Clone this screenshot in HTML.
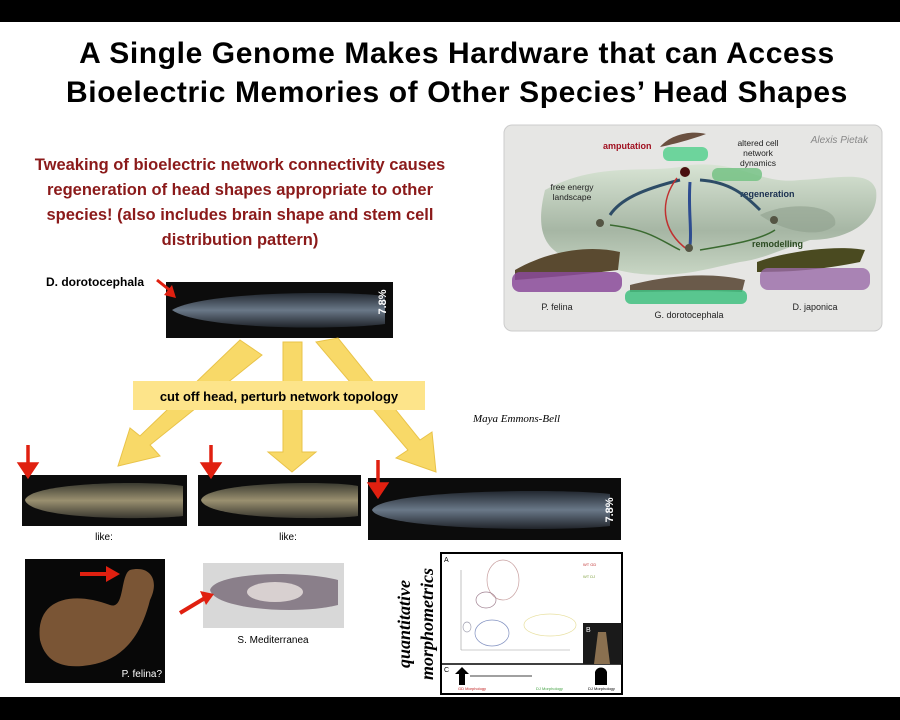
<!DOCTYPE html>
<html><head><meta charset="utf-8"><style>
body{margin:0;background:#000;}
svg{display:block}
</style></head><body>
<svg width="900" height="720" viewBox="0 0 900 720" xmlns="http://www.w3.org/2000/svg" font-family="Liberation Sans, sans-serif">
<defs>
<linearGradient id="worm" x1="0" y1="0" x2="0" y2="1"><stop offset="0" stop-color="#3a3a30"/><stop offset="0.5" stop-color="#9a9070"/><stop offset="1" stop-color="#3a3830"/></linearGradient>
<linearGradient id="wormb" x1="0" y1="0" x2="0" y2="1"><stop offset="0" stop-color="#222830"/><stop offset="0.5" stop-color="#6a7888"/><stop offset="1" stop-color="#20242a"/></linearGradient>
<linearGradient id="land" x1="0" y1="0" x2="0" y2="1"><stop offset="0" stop-color="#d8e4d4"/><stop offset="0.6" stop-color="#a6b6a4"/><stop offset="1" stop-color="#c8d6c4"/></linearGradient>
</defs>
<rect x="0" y="0" width="900" height="720" fill="#000"/>
<rect x="0" y="22" width="900" height="675" fill="#fff"/>
<text x="457" y="63" text-anchor="middle" font-size="30" font-weight="bold" fill="#000" letter-spacing="0.6">A Single Genome Makes Hardware that can Access</text>
<text x="457" y="102" text-anchor="middle" font-size="30" font-weight="bold" fill="#000" letter-spacing="0.6">Bioelectric Memories of Other Species’ Head Shapes</text>
<g font-size="16.5" font-weight="bold" fill="#8b1a1a" text-anchor="middle">
<text x="240" y="170">Tweaking of bioelectric network connectivity causes</text>
<text x="240" y="195">regeneration of head shapes appropriate to other</text>
<text x="240" y="220">species! (also includes brain shape and stem cell</text>
<text x="240" y="245">distribution pattern)</text>
</g>
<rect x="504" y="125" width="378" height="206" rx="8" fill="#e6e6e4" stroke="#ccc"/>
<path d="M545 190 C600 160 650 175 690 165 C740 160 760 185 800 180 C840 178 870 170 876 190 C880 220 850 240 810 240 C780 250 760 260 740 262 C700 270 660 285 600 265 C560 260 530 250 545 190Z" fill="url(#land)"/>
<path d="M760 215 C790 200 840 205 835 225 C820 240 780 230 760 215Z" fill="#8fa08e" opacity="0.6"/>
<text x="868" y="143" text-anchor="end" font-size="10" font-style="italic" fill="#888">Alexis Pietak</text>
<text x="603" y="149" font-size="9" font-weight="bold" fill="#a01020">amputation</text>
<text x="758" y="146" text-anchor="middle" font-size="8.5" fill="#222">altered cell</text>
<text x="758" y="156" text-anchor="middle" font-size="8.5" fill="#222">network</text>
<text x="758" y="166" text-anchor="middle" font-size="8.5" fill="#222">dynamics</text>
<text x="572" y="190" text-anchor="middle" font-size="8.5" fill="#222">free energy</text>
<text x="572" y="200" text-anchor="middle" font-size="8.5" fill="#222">landscape</text>
<text x="740" y="197" font-size="9" font-weight="bold" fill="#1a3050">regeneration</text>
<text x="752" y="247" font-size="9" font-weight="bold" fill="#2a4a20">remodelling</text>
<path d="M660 147 C670 135 690 130 706 134 C690 140 670 145 660 147Z" fill="#6a5040"/>
<rect x="663" y="147" width="45" height="14" rx="6" fill="#4fd08a" opacity="0.8"/>
<rect x="712" y="168" width="50" height="13" rx="6" fill="#6fc080" opacity="0.8"/>
<circle cx="685" cy="172" r="5" fill="#4a1010"/>
<path d="M700 180 C730 182 745 195 760 210" stroke="#2d4c66" stroke-width="3" fill="none"/>
<path d="M680 180 C640 190 620 200 610 215" stroke="#2d4c66" stroke-width="3" fill="none"/>
<path d="M690 182 C688 210 692 230 690 245" stroke="#2d4c90" stroke-width="3" fill="none"/>
<path d="M688 250 C660 230 660 200 677 178" stroke="#c03030" stroke-width="1.5" fill="none"/>
<path d="M610 225 C650 230 660 240 680 250 M775 230 C760 240 730 245 700 250" stroke="#3a6a30" stroke-width="1.5" fill="none"/>
<circle cx="600" cy="223" r="4" fill="#554"/><circle cx="774" cy="220" r="4" fill="#554"/><circle cx="689" cy="248" r="4" fill="#554"/>
<path d="M515 270 C550 250 590 245 620 252 L618 270 C580 275 540 278 515 280Z" fill="#5a4a30"/>
<rect x="512" y="272" width="110" height="20" rx="8" fill="#8a4a9a" opacity="0.85"/>
<path d="M630 285 C670 275 710 272 745 280 L742 292 C700 290 660 292 630 292Z" fill="#6a5a4a"/>
<rect x="625" y="290" width="122" height="14" rx="6" fill="#3fbf80" opacity="0.85"/>
<path d="M757 262 C790 250 840 245 865 250 L860 262 C820 270 790 272 757 272Z" fill="#4a4a20"/>
<rect x="760" y="268" width="110" height="22" rx="8" fill="#9a6aa8" opacity="0.8"/>
<text x="557" y="310" text-anchor="middle" font-size="9" fill="#222">P. felina</text>
<text x="689" y="318" text-anchor="middle" font-size="9" fill="#222">G. dorotocephala</text>
<text x="815" y="310" text-anchor="middle" font-size="9" fill="#222">D. japonica</text>
<text x="46" y="286" font-size="12" font-weight="bold" fill="#000">D. dorotocephala</text>
<rect x="166" y="282" width="227" height="56" fill="#0c0c0c"/>
<path d="M172 310 C200 292 340 290 385 296 L385 324 C340 330 200 330 172 310Z" fill="url(#wormb)"/>
<text x="386" y="302" font-size="11" font-weight="bold" fill="#fff" transform="rotate(-90 386 302)" text-anchor="middle">7.8%</text>
<path d="M157 280 L172 292" stroke="#e02010" stroke-width="3"/><path d="M176 298 L164 295 L172 285Z" fill="#e02010"/>
<g fill="#f8d860" stroke="#e8c040" stroke-width="1" opacity="0.95">
<path d="M240 340 L262 355 L150 445 L160 456 L118 466 L130 428 L140 436Z"/>
<path d="M283 342 L302 342 L302 452 L316 452 L292 472 L268 452 L283 452Z"/>
<path d="M316 342 L338 338 L420 440 L432 432 L436 472 L396 458 L408 450Z"/>
</g>
<rect x="133" y="381" width="292" height="29" fill="#fde48a"/>
<text x="279" y="401" text-anchor="middle" font-size="13" font-weight="bold" fill="#000">cut off head, perturb network topology</text>
<text x="473" y="422" font-size="11" font-style="italic" font-family="Liberation Serif, serif" fill="#000">Maya Emmons-Bell</text>
<rect x="22" y="475" width="165" height="51" fill="#0c0c0c"/>
<path d="M25 500 C30 482 150 480 183 486 L183 516 C150 520 30 520 25 500Z" fill="url(#worm)"/>
<rect x="198" y="475" width="163" height="51" fill="#0c0c0c"/>
<path d="M201 500 C206 482 330 480 358 486 L358 516 C330 520 206 520 201 500Z" fill="url(#worm)"/>
<rect x="368" y="478" width="253" height="62" fill="#0c0c0c"/>
<path d="M372 510 C380 490 560 488 610 494 L610 526 C560 532 380 530 372 510Z" fill="url(#wormb)"/>
<text x="613" y="510" font-size="11" font-weight="bold" fill="#fff" transform="rotate(-90 613 510)" text-anchor="middle">7.8%</text>
<g stroke="#e02010" stroke-width="3.5" fill="#e02010">
<line x1="28" y1="445" x2="28" y2="466"/><path d="M20 464 L36 464 L28 476Z"/>
<line x1="211" y1="445" x2="211" y2="466"/><path d="M203 464 L219 464 L211 476Z"/>
<line x1="378" y1="460" x2="378" y2="486"/><path d="M370 484 L386 484 L378 496Z"/>
</g>
<text x="104" y="540" text-anchor="middle" font-size="10" fill="#000">like:</text>
<text x="288" y="540" text-anchor="middle" font-size="10" fill="#000">like:</text>
<rect x="25" y="559" width="140" height="124" fill="#080808"/>
<path d="M40 640 C35 600 70 590 110 605 C125 610 120 575 130 570 C150 565 160 580 150 600 C140 640 120 660 90 665 C60 670 45 660 40 640Z" fill="#7a5535"/>
<text x="162" y="677" text-anchor="end" font-size="10" fill="#fff">P. felina?</text>
<path d="M80 574 L108 574" stroke="#e02010" stroke-width="4"/><path d="M106 566 L120 574 L106 582Z" fill="#e02010"/>
<rect x="203" y="563" width="141" height="65" fill="#d8d8d8"/>
<path d="M210 590 C215 572 300 570 338 580 L338 605 C300 615 215 610 210 590Z" fill="#8a7f8a"/>
<ellipse cx="275" cy="592" rx="28" ry="10" fill="#d8d0d0"/>
<text x="273" y="643" text-anchor="middle" font-size="10" fill="#000">S. Mediterranea</text>
<path d="M180 613 L205 598" stroke="#e02010" stroke-width="4"/><path d="M200 591 L214 594 L206 605Z" fill="#e02010"/>
<g font-family="Liberation Serif, serif" font-style="italic" font-weight="bold" font-size="18" fill="#000">
<text transform="translate(410 624) rotate(-90)" text-anchor="middle">quantitative</text>
<text transform="translate(433 624) rotate(-90)" text-anchor="middle">morphometrics</text>
</g>
<rect x="441" y="553" width="181" height="141" fill="#fff" stroke="#000" stroke-width="2"/>
<line x1="441" y1="664" x2="622" y2="664" stroke="#000" stroke-width="1.5"/>
<text x="444" y="562" font-size="7" fill="#000">A</text><text x="444" y="672" font-size="7" fill="#000">C</text>
<line x1="461" y1="570" x2="461" y2="650" stroke="#999" stroke-width="0.6"/><line x1="461" y1="650" x2="570" y2="650" stroke="#999" stroke-width="0.6"/>
<g fill="none" stroke-width="0.7">
<ellipse cx="503" cy="580" rx="16" ry="20" stroke="#c8a0a0"/>
<ellipse cx="486" cy="600" rx="10" ry="8" stroke="#a08090"/>
<ellipse cx="492" cy="633" rx="17" ry="13" stroke="#8090c0"/>
<ellipse cx="550" cy="625" rx="26" ry="11" stroke="#e8e0a0"/>
<ellipse cx="467" cy="627" rx="4" ry="5" stroke="#a0a0b0"/>
</g>
<rect x="583" y="623" width="39" height="41" fill="#1a1a1a"/>
<path d="M598 632 L606 632 L610 664 L594 664Z" fill="#8a7050"/>
<text x="586" y="632" font-size="7" fill="#fff">B</text>
<g font-size="4" fill="#c03030"><text x="583" y="566">WT GD</text></g>
<g font-size="4" fill="#80a040"><text x="583" y="578">WT DJ</text></g>
<path d="M459 685 L459 674 L455 674 L462 667 L469 674 L465 674 L465 685Z" fill="#000"/>
<line x1="470" y1="676" x2="532" y2="676" stroke="#000" stroke-width="0.8"/>
<path d="M595 685 L595 672 C597 666 605 666 607 672 L607 685Z" fill="#000"/>
<text x="458" y="690" font-size="4" fill="#c02020">GD Morphology</text>
<text x="536" y="690" font-size="4" fill="#40a040">DJ Morphology</text>
<text x="588" y="690" font-size="4" fill="#000">DJ Morphology</text>
</svg>
</body></html>
